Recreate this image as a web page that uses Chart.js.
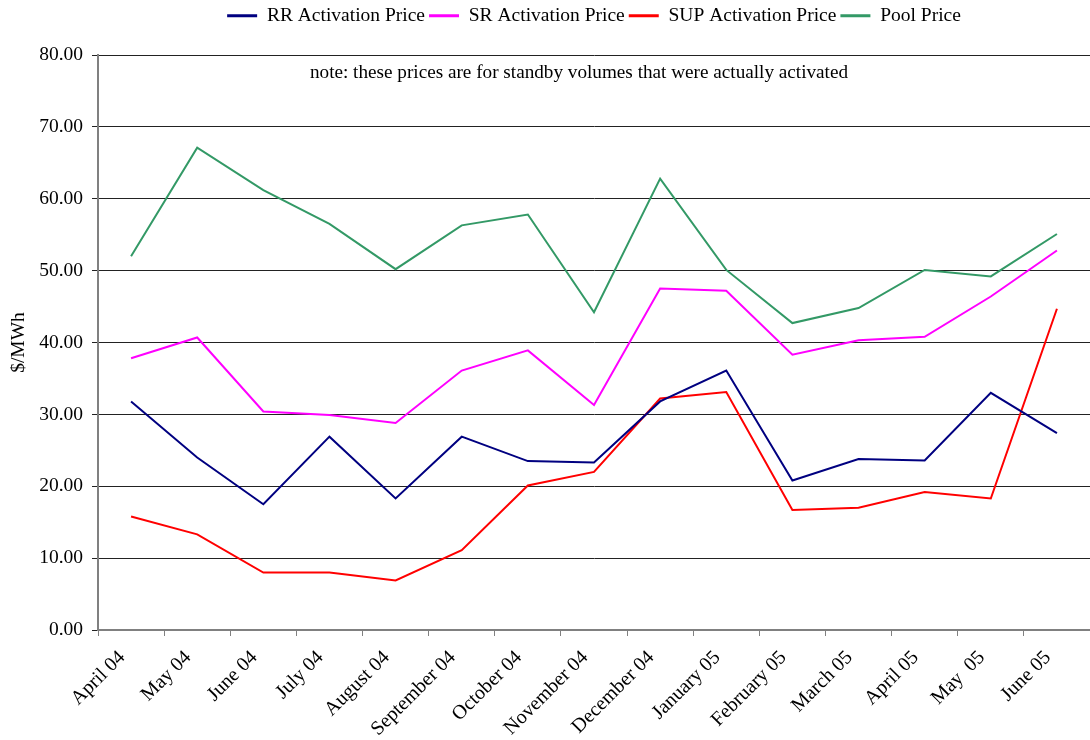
<!DOCTYPE html>
<html>
<head>
<meta charset="utf-8">
<script src="https://cdn.jsdelivr.net/npm/chart.js@4.4.1/dist/chart.umd.min.js"></script>
<style>
  html, body { margin: 0; padding: 0; background: #ffffff; }
  #wrap { width: 1090px; height: 740px; position: relative; }
</style>
</head>
<body>
<div id="wrap"><canvas id="c" width="1090" height="740"></canvas></div>
<script>
const categories = ["April 04", "May 04", "June 04", "July 04", "August 04", "September 04", "October 04", "November 04", "December 04", "January 05", "February 05", "March 05", "April 05", "May  05", "June 05"];
const rrActivation = [31.8, 24.0, 17.5, 26.9, 18.3, 26.9, 23.5, 23.3, 31.8, 36.1, 20.8, 23.8, 23.6, 33.0, 27.4];
const srActivation = [37.8, 40.7, 30.4, 29.9, 28.8, 36.1, 38.9, 31.3, 47.5, 47.2, 38.3, 40.3, 40.8, 46.4, 52.8];
const supActivation = [15.8, 13.3, 8.0, 8.0, 6.9, 11.1, 20.1, 22.0, 32.2, 33.1, 16.7, 17.0, 19.2, 18.3, 44.7];
const poolPrice = [52.0, 67.1, 61.2, 56.5, 50.2, 56.3, 57.8, 44.2, 62.8, 50.1, 42.7, 44.8, 50.1, 49.2, 55.1];
const seriesNames = ["RR Activation Price", "SR Activation Price", "SUP Activation Price", "Pool Price"];
const noteText = "note: these prices are for standby volumes that were actually activated";
const yTitle = "$/MWh";

const FONT = "'Liberation Serif', 'Times New Roman', serif";
const FS = 19.5;

const notePlugin = {
  id: 'notePlugin',
  beforeLayout(chart) {
    const lg = chart.legend;
    if (lg && !lg._fitWrapped) {
      const orig = lg.fit;
      lg.fit = function () { orig.call(this); this.height = 53; };
      lg._fitWrapped = true;
    }
  },
  afterDatasetsDraw(chart) {
    const ctx = chart.ctx;
    const area = chart.chartArea;
    ctx.save();
    ctx.font = "19.2px " + FONT;
    ctx.fillStyle = "#000";
    ctx.textAlign = "center";
    ctx.textBaseline = "middle";
    ctx.fillText(noteText, (area.left + area.right) / 2 - 15, area.top + 18);
    ctx.restore();
  }
};

function mk(label, data, color) {
  return {
    label: label, data: data, borderColor: color, backgroundColor: color,
    borderWidth: 2, pointRadius: 0, pointHoverRadius: 0, tension: 0, fill: false
  };
}

new Chart(document.getElementById('c'), {
  type: 'line',
  data: {
    labels: categories,
    datasets: [
      mk(seriesNames[0], rrActivation, '#000080'),
      mk(seriesNames[1], srActivation, '#FF00FF'),
      mk(seriesNames[2], supActivation, '#FF0000'),
      mk(seriesNames[3], poolPrice, '#339966')
    ]
  },
  options: {
    responsive: false,
    animation: false,
    events: [],
    layout: { padding: { top: 2, right: 0, left: 0, bottom: 0 } },
    plugins: {
      legend: {
        position: 'top',
        fullSize: false,
        labels: {
          font: { family: FONT, size: FS },
          color: '#000',
          boxWidth: 30,
          boxHeight: 3,
          padding: 4,
          generateLabels(chart) {
            return chart.data.datasets.map((ds, i) => ({
              text: ds.label, fillStyle: ds.borderColor, strokeStyle: ds.borderColor,
              lineWidth: 0, hidden: false, datasetIndex: i, fontColor: '#000'
            }));
          }
        }
      },
      tooltip: { enabled: false },
      title: { display: false }
    },
    scales: {
      x: {
        type: 'category',
        offset: true,
        grid: { display: true, drawOnChartArea: false, drawTicks: true, tickLength: 6, color: '#808080', offset: true },
        border: { display: true, color: '#808080', width: 2 },
        ticks: { font: { family: FONT, size: 20 }, color: '#000', maxRotation: 45, minRotation: 45, autoSkip: false, padding: 10, labelOffset: -9 },
        afterFit(scale) { scale.height = 110; }
      },
      y: {
        min: 0, max: 80,
        ticks: { stepSize: 10, font: { family: FONT, size: FS }, color: '#000', padding: 9,
          callback: (v) => Number(v).toFixed(2) },
        grid: { color: '#222', lineWidth: 1, drawTicks: true, tickLength: 6 },
        border: { display: true, color: '#808080', width: 2 },
        title: { display: true, text: yTitle, font: { family: FONT, size: FS }, color: '#000', padding: 7 },
        afterFit(scale) { scale.width = 98; }
      }
    }
  },
  plugins: [notePlugin]
});
</script>
</body>
</html>
